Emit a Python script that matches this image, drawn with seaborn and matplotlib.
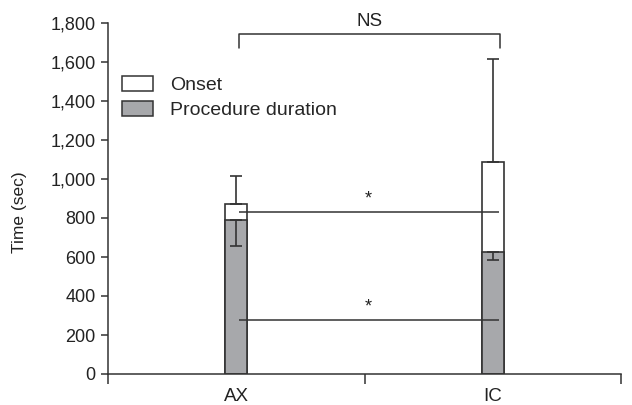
import matplotlib
matplotlib.use("Agg")
import matplotlib.pyplot as plt
import seaborn as sns
import pandas as pd
from matplotlib.patches import Patch

groups = ["AX", "IC"]
onset_total = [872, 1086]        # top of white (onset) segment
procedure = [790, 626]           # grey segment
total_upper = [1015, 1615]       # upper error bar end
procedure_lower = [656, 585]     # lower error bar end
yticks = [0, 200, 400, 600, 800, 1000, 1200, 1400, 1600, 1800]
ytick_labels = ["0", "200", "400", "600", "800", "1,000", "1,200", "1,400", "1,600", "1,800"]
sig_levels = [831, 277]
sig_labels = ["*", "*"]

sns.set_theme(style="white")
plt.rcParams["font.family"] = ["Liberation Sans", "DejaVu Sans"]

df = pd.DataFrame({"group": groups, "total": onset_total, "proc": procedure})

fig = plt.figure(figsize=(6.32, 4.05), dpi=100)
ax = fig.add_axes([108/632, 31/405, 513/632, 351/405])

grey = "#a7a8ab"
edge = "#333333"
txt = "#222222"
sns.barplot(data=df, x="group", y="total", color="white", edgecolor=edge,
            linewidth=1.2, width=0.086, ax=ax, saturation=1)
sns.barplot(data=df, x="group", y="proc", color=grey, edgecolor=edge,
            linewidth=1.2, width=0.086, ax=ax, saturation=1)

xs = [0, 1]
up = [u - t for u, t in zip(total_upper, onset_total)]
ax.errorbar(xs, onset_total, yerr=[[0, 0], up], fmt="none", ecolor=edge,
            elinewidth=1.2, capsize=4.5, capthick=1.2, zorder=5)
lo = [p - l for p, l in zip(procedure, procedure_lower)]
ax.errorbar(xs, procedure, yerr=[lo, [0, 0]], fmt="none", ecolor=edge,
            elinewidth=1.2, capsize=4.5, capthick=1.2, zorder=5)

for lvl, lab in zip(sig_levels, sig_labels):
    ax.hlines(lvl, 0.012, 1.025, color=edge, linewidth=1.1, zorder=6)
    ax.text(0.515, lvl + 65, lab, ha="center", va="center", fontsize=13, color=txt)

# NS bracket
ax.plot([0.01, 0.01, 1.03, 1.03], [1672, 1744, 1744, 1672], color=edge,
        linewidth=1.1, clip_on=False)
ax.text(0.52, 1808, "NS", ha="center", va="center", fontsize=13.5, color=txt,
        clip_on=False)

ax.set_xlim(-0.5, 1.5)
ax.set_ylim(0, 1800)
ax.set_yticks(yticks)
ax.set_yticklabels(ytick_labels, fontsize=13, color=txt)
ax.set_xticks(xs)
ax.set_xticklabels(groups, fontsize=13.5, color=txt)
ax.set_xticks([-0.5, 0.5, 1.5], minor=True)
ax.tick_params(axis="x", which="major", length=0, pad=10)
ax.tick_params(axis="x", which="minor", length=7, width=1.1, color=edge, direction="out", bottom=True)
ax.tick_params(axis="y", length=5, width=1.1, color=edge, direction="out", left=True, pad=4)
ax.set_xlabel("")
ax.set_ylabel("Time (sec)", fontsize=12.5, color=txt)
ax.yaxis.set_label_coords(-0.157, 0.46)

for s in ["top", "right"]:
    ax.spines[s].set_visible(False)
for s in ["left", "bottom"]:
    ax.spines[s].set_color(edge)
    ax.spines[s].set_linewidth(1.1)

handles = [Patch(facecolor="white", edgecolor=edge, linewidth=1.1, label="Onset"),
           Patch(facecolor=grey, edgecolor=edge, linewidth=1.1, label="Procedure duration")]
ax.legend(handles=handles, loc="upper left", bbox_to_anchor=(0.027, 0.85),
          frameon=False, fontsize=14, handlelength=1.6, handleheight=0.85,
          handletextpad=0.9, labelspacing=0.35, borderaxespad=0, borderpad=0)

fig.savefig("out.png", dpi=100)
